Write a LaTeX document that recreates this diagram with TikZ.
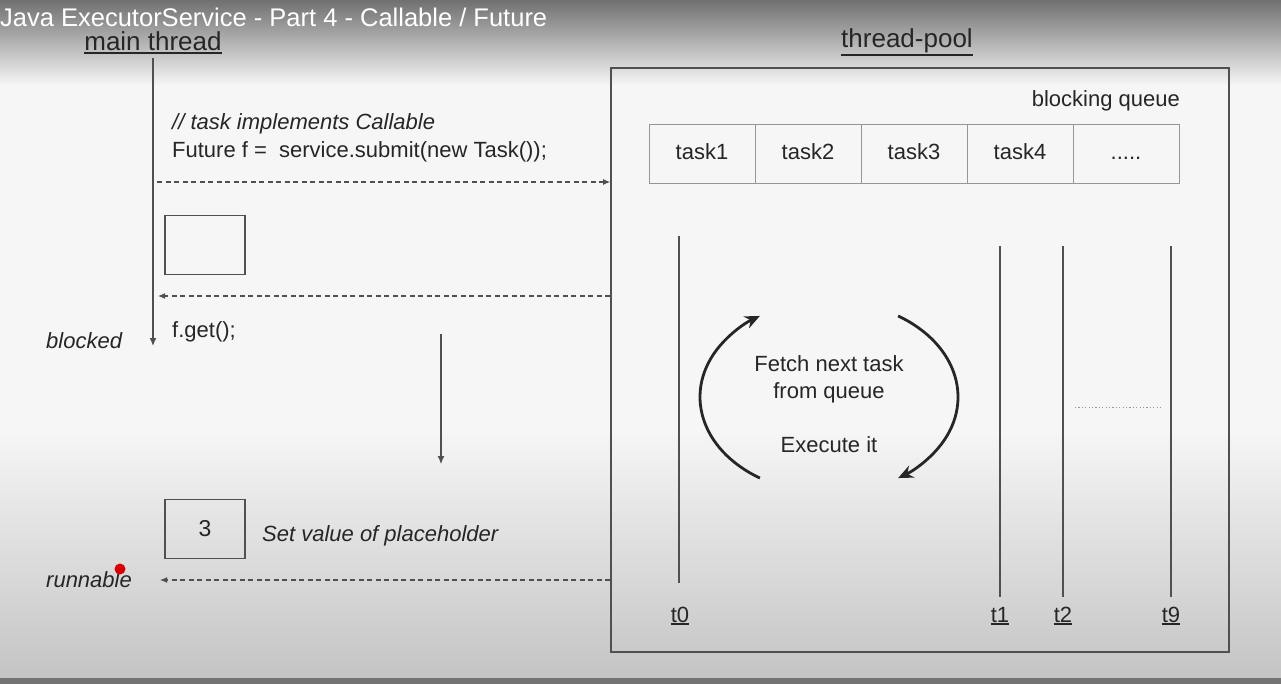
\documentclass[tikz,border=0pt]{standalone}
\usepackage{fontspec}
\setmainfont{Liberation Sans}
\usetikzlibrary{arrows.meta}
\definecolor{ink}{RGB}{38,38,38}
\definecolor{linec}{RGB}{80,80,80}
\definecolor{cellc}{RGB}{150,150,150}
\definecolor{bgc}{RGB}{246,246,246}
\definecolor{topc}{RGB}{112,112,112}
\definecolor{botc}{RGB}{196,196,196}
\newcommand\myul[1]{\setbox0\hbox{#1}\rlap{\rule[\dimexpr-\dp0-2.6pt\relax]{\wd0}{1.6pt}}\box0}
\begin{document}
\begin{tikzpicture}[x=1pt,y=-1pt,
  txt/.style={text=ink, inner sep=0pt, font=\fontsize{22}{27}\selectfont},
  itxt/.style={txt, font=\fontsize{22}{27}\selectfont\itshape},
  head/.style={text=ink, inner sep=0pt, font=\fontsize{26}{30}\selectfont},
  cell/.style={draw=cellc, line width=1pt, minimum width=106pt, minimum height=59pt, inner sep=0pt, outer sep=0pt, text=ink, text height=16pt, text depth=5pt, font=\fontsize{22}{27}\selectfont},
  valbox/.style={draw=linec, line width=1.3pt, minimum width=80pt, minimum height=59pt, inner sep=0pt, text=ink, font=\fontsize{23}{27}\selectfont},
  dasharrow/.style={draw=linec, line width=1.1pt, dash pattern=on 5pt off 3.5pt, -{Latex[length=7pt,width=6pt]}},
  solidarrow/.style={draw=linec, line width=1.3pt, -{Latex[length=8pt,width=7pt]}},
  threadline/.style={draw=linec, line width=1.2pt},
  looparrow/.style={draw=ink, line width=2.8pt, -{Stealth[length=15pt,width=13pt]}}
]
\useasboundingbox (0,0) rectangle (1281,684);
% background
\fill[bgc] (0,0) rectangle (1281,684);
\shade[top color=topc, bottom color=bgc] (0,0) rectangle (1281,85);
\shade[top color=bgc, bottom color=botc] (0,430) rectangle (1281,678);
\fill[black!55] (0,678) rectangle (1281,684);

% title
\node[anchor=base west, inner sep=0pt, text=white, font=\fontsize{25.5}{30}\selectfont] (title) at (0,26.5) {Java ExecutorService - Part 4 - Callable / Future};

% main thread
\node[head, anchor=base] (mainlbl) at (153,51) {\myul{main thread}};
\coordinate (mt0) at (153,58);
\coordinate (mt1) at (153,346);
\draw[solidarrow, line width=1.2pt] (mt0) -- (mt1);

\node[itxt, anchor=base west] (comment) at (172,130) {// task implements Callable};
\node[txt, anchor=base west] (submit) at (172,158) {Future f =\ \ service.submit(new Task());};

% thread pool box
\node[draw=linec, line width=1.6pt, minimum width=618pt, minimum height=584pt, inner sep=0pt] (pool) at (920,360) {};
\node[head, anchor=base] (poollbl) at (907,48) {\myul{thread-pool}};

% arrows between main thread and pool
\coordinate (s0) at (157,182);
\draw[dasharrow] (s0) -- (s0 -| pool.west);
\node[valbox] (ph) at (205,245) {};
\coordinate (r0) at (158,296);
\draw[dasharrow] (r0 -| pool.west) -- (r0);
\node[txt, anchor=base west] (get) at (172,337) {f.get();};
\node[itxt, anchor=base west] (blocked) at (46,348) {blocked};
\coordinate (d0) at (441,334);
\coordinate (d1) at (441,464);
\draw[solidarrow, line width=1.1pt] (d0) -- (d1);
\node[valbox] (val) at (205,529) {3};
\node[itxt, anchor=base west] (setv) at (262,541) {Set value of placeholder};
\node[itxt, anchor=base west] (runnable) at (46,587) {runnable};
\coordinate (q0) at (160,580);
\draw[dasharrow] (q0 -| pool.west) -- (q0);
\fill[red!85!black] (120,569) circle[radius=5.5pt];

% blocking queue
\node[txt, anchor=base east] (bq) at (1180,107) {blocking queue};
\node[cell] (c1) at (702,154.5) {task1};
\node[cell, anchor=west] (c2) at (c1.east) {task2};
\node[cell, anchor=west] (c3) at (c2.east) {task3};
\node[cell, anchor=west] (c4) at (c3.east) {task4};
\node[cell, anchor=west] (c5) at (c4.east) {.....};

% threads
\coordinate (a0) at (679,236); \coordinate (b0) at (679,583);
\coordinate (a1) at (1000,246); \coordinate (b1) at (1000,597);
\coordinate (a2) at (1063,246); \coordinate (b2) at (1063,597);
\coordinate (a9) at (1171,246); \coordinate (b9) at (1171,597);
\draw[threadline] (a0) -- (b0);
\draw[threadline] (a1) -- (b1);
\draw[threadline] (a2) -- (b2);
\draw[threadline] (a9) -- (b9);
\node[txt, anchor=base] (t0) at (680,622) {\myul{t0}};
\node[txt, anchor=base] (t1) at (1000,622) {\myul{t1}};
\node[txt, anchor=base] (t2) at (1063,622) {\myul{t2}};
\node[txt, anchor=base] (t9) at (1171,622) {\myul{t9}};
\coordinate (dl0) at (1075,407);
\coordinate (dl1) at (1162,407);
\draw[cellc, line width=1pt, dash pattern=on 1.2pt off 2.2pt] (dl0) -- (dl1);

% loop
\coordinate (lc) at (829,397);
\node[txt, anchor=base] (fetch) at (829,371) {Fetch next task};
\node[txt, anchor=base] (fromq) at (829,398) {from queue};
\node[txt, anchor=base] (exec) at (829,452) {Execute it};
\draw[looparrow] ([shift={(122.4:129 and 96)}]lc) arc[start angle=122.4, end angle=237.6, x radius=129, y radius=96];
\draw[looparrow] ([shift={(-57.6:129 and 96)}]lc) arc[start angle=-57.6, end angle=57.6, x radius=129, y radius=96];
\end{tikzpicture}
\end{document}
